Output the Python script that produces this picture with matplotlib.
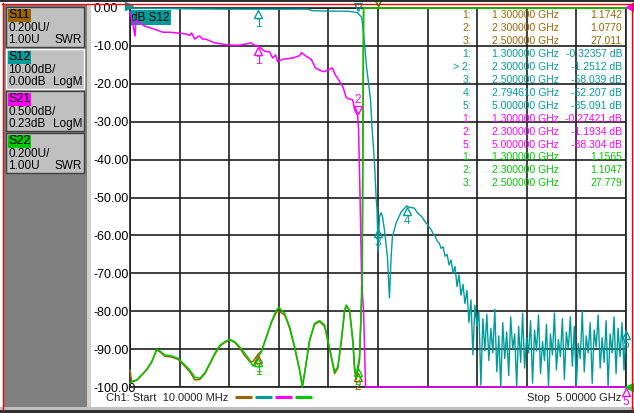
import numpy as np
import matplotlib
matplotlib.use("Agg")
import matplotlib.pyplot as plt
from matplotlib.patches import Rectangle
from matplotlib.lines import Line2D
from matplotlib.transforms import offset_copy

plt.rcParams['font.family'] = ['Liberation Sans', 'DejaVu Sans']

W, H = 634, 413

col_s11 = '#9c6400'
col_s12 = '#009c9c'
col_s21 = '#ff00ff'
col_s22 = '#00c800'

start_ghz, stop_ghz = 0.01, 5.0

# channel boxes on the left
ch_names  = ['S11', 'S12', 'S21', 'S22']
ch_scale  = ['0.200U/', '10.00dB/', '0.500dB/', '0.200U/']
ch_ref    = ['1.00U', '0.00dB', '0.23dB', '1.00U']
ch_format = ['SWR', 'LogM', 'LogM', 'SWR']
ch_colors = [col_s11, col_s12, col_s21, col_s22]

# S12, dB (10 dB/div, ref 0 dB at top)
s12_f = [0.01, 0.50, 1.00, 1.30, 1.80, 1.84, 2.00, 2.20, 2.25, 2.30,
         2.339, 2.349, 2.369, 2.39, 2.41, 2.43, 2.44, 2.447, 2.47, 2.486,
         2.495, 2.50, 2.505, 2.52, 2.537, 2.55, 2.57, 2.60, 2.62, 2.637,
         2.65, 2.688, 2.738, 2.7946, 2.82, 2.87, 2.90, 2.95, 2.98]
s12_db = [-0.05, -0.20, -0.30, -0.32, -0.30, -0.70, -0.80, -0.85, -1.00, -1.25,
          -2.4, -4.0, -9.2, -15.6, -19.8, -24.3, -29.0, -32.2, -41.0, -50.0,
          -53.0, -58.0, -64.4, -55.0, -54.0, -55.0, -58.6, -65.7, -76.5, -65.7,
          -60.4, -56.7, -53.8, -52.2, -52.6, -52.8, -54.0, -55.2, -56.5]
# S12 noisy tail, 3.00 .. 5.00 GHz sweep points
s12_tail_db = [
    -57.0, -57.8, -58.5, -59.6, -60.2, -61.5, -62.0, -63.4, -63.0, -65.5,
    -65.0, -67.8, -66.5, -69.9, -68.2, -73.5, -70.4, -75.8, -72.9, -78.0,
    -74.5, -83.0, -77.0, -91.5, -78.4, -84.0, -80.1, -99.5, -82.0, -90.5,
    -80.8, -93.0, -84.5, -91.0, -79.5, -96.0, -86.5, -100.0, -83.0, -92.5,
    -85.5, -97.0, -81.5, -90.0, -86.0, -100.0, -84.0, -93.5, -80.5, -95.0,
    -87.0, -91.0, -82.5, -99.0, -85.0, -90.5, -81.0, -96.5, -88.0, -93.0,
    -83.5, -100.0, -86.0, -91.5, -80.5, -95.5, -87.5, -92.0, -82.0, -98.0,
    -85.5, -90.0, -81.5, -94.5, -84.0, -100.0, -88.5, -92.5, -80.0, -96.0,
    -86.5, -91.0, -83.0, -99.0, -85.0, -89.5, -81.0, -95.0, -87.0, -93.5,
    -82.5, -100.0, -86.0, -91.0, -81.5, -96.5, -84.5, -92.0, -83.0, -95.5,
    -85.1]

# S21, dB (0.5 dB/div, ref 0.23 dB at top)
s21_f = [0.01, 0.04, 0.06, 0.07, 0.11, 0.16, 0.21, 0.28, 0.34, 0.41,
         0.49, 0.56, 0.61, 0.63, 0.66, 0.69, 0.71, 0.74, 0.77, 0.81,
         0.86, 0.91, 1.01, 1.11, 1.19, 1.23, 1.26, 1.30, 1.335, 1.365,
         1.415, 1.445, 1.475, 1.495, 1.535, 1.585, 1.645, 1.715, 1.735, 1.785,
         1.835, 1.875, 1.935, 1.965, 1.995, 2.045, 2.075, 2.115, 2.155, 2.185,
         2.215, 2.25, 2.27, 2.30, 2.31, 2.325, 2.34, 2.36, 2.38, 3.00, 5.00]
s21_db = [0.18, 0.01, -0.14, 0.07, 0.03, -0.01, -0.03, -0.06, -0.09, -0.09,
          -0.10, -0.11, -0.13, -0.10, -0.18, -0.15, -0.14, -0.18, -0.18, -0.20,
          -0.23, -0.24, -0.26, -0.26, -0.24, -0.23, -0.26, -0.27, -0.31, -0.34,
          -0.35, -0.43, -0.39, -0.48, -0.45, -0.44, -0.43, -0.40, -0.36, -0.41,
          -0.45, -0.56, -0.60, -0.61, -0.59, -0.56, -0.65, -0.73, -0.82, -0.95,
          -0.97, -0.98, -1.11, -1.19, -1.38, -2.3, -3.35, -3.78, -30.0, -60.0, -88.3]

# S11 / S22, SWR (0.2 U/div, ref 1.00 U at bottom)
swr_f = [0.01, 0.027, 0.077, 0.127, 0.178, 0.228, 0.278, 0.311, 0.361, 0.429,
         0.495, 0.545, 0.612, 0.663, 0.713, 0.763, 0.813, 0.863, 0.914, 0.964,
         1.014, 1.064, 1.114, 1.165, 1.215, 1.248, 1.30, 1.332, 1.382, 1.433,
         1.483, 1.506, 1.566, 1.616, 1.667, 1.717, 1.744, 1.767, 1.817, 1.867,
         1.918, 1.968, 2.001, 2.051, 2.068, 2.101, 2.136, 2.169, 2.186, 2.219,
         2.252, 2.269, 2.285, 2.30, 2.319, 2.336, 2.346, 2.36, 2.50, 5.00]
s22_swr = [1.02, 1.03, 1.037, 1.064, 1.093, 1.134, 1.199, 1.19, 1.169, 1.164,
           1.151, 1.125, 1.09, 1.051, 1.046, 1.075, 1.125, 1.178, 1.22, 1.239,
           1.251, 1.239, 1.212, 1.178, 1.142, 1.11, 1.1565, 1.186, 1.265, 1.345,
           1.406, 1.42, 1.389, 1.318, 1.212, 1.09, 1.0, 1.072, 1.248, 1.336,
           1.35, 1.327, 1.248, 1.125, 1.081, 1.107, 1.248, 1.406, 1.43, 1.406,
           1.248, 1.107, 1.06, 1.1047, 1.16, 1.42, 1.51, 4.0, 27.779, 28.5]
s11_swr = [1.09, 1.025, 1.035, 1.062, 1.09, 1.13, 1.195, 1.185, 1.162, 1.158,
           1.145, 1.118, 1.08, 1.037, 1.04, 1.07, 1.12, 1.172, 1.215, 1.235,
           1.248, 1.235, 1.205, 1.165, 1.133, 1.135, 1.1742, 1.19, 1.262, 1.34,
           1.396, 1.40, 1.38, 1.31, 1.205, 1.085, 1.005, 1.075, 1.245, 1.33,
           1.345, 1.32, 1.24, 1.115, 1.07, 1.10, 1.24, 1.40, 1.432, 1.40,
           1.24, 1.09, 1.04, 1.077, 1.14, 1.40, 1.70, 3.2, 27.011, 28.0]

# marker readouts
s11_mk_num = ['1', '2', '3']
s11_mk_f   = [1.3, 2.3, 2.5]
s11_mk_val = [1.1742, 1.0770, 27.011]
s12_mk_num = ['1', '2', '3', '4', '5']
s12_mk_f   = [1.3, 2.3, 2.5, 2.79461, 5.0]
s12_mk_val = [-0.32357, -1.2512, -58.039, -52.207, -85.091]
s21_mk_num = ['1', '2', '5']
s21_mk_f   = [1.3, 2.3, 5.0]
s21_mk_val = [-0.27421, -1.1934, -88.304]
s22_mk_num = ['1', '2', '3']
s22_mk_f   = [1.3, 2.3, 2.5]
s22_mk_val = [1.1565, 1.1047, 27.779]
active_mk = '2'


def logm_screen(v, per_div, ref):
    # reference line at the top of the graticule
    return np.clip((np.asarray(v, float) - ref) / per_div * 10.0, -100, 0)


def swr_screen(v, per_div=0.2, ref=1.0):
    # reference line at the bottom of the graticule
    return np.clip(-100 + (np.asarray(v, float) - ref) / per_div * 10.0, -100, 0)


def fx(x):
    return x / W


def fy(y):
    return 1 - y / H


def rect(x0, y0, x1, y1, **kw):
    fig.add_artist(Rectangle((fx(x0), fy(y1)), (x1 - x0) / W, (y1 - y0) / H,
                             transform=fig.transFigure, **kw))


def hline(x0, x1, y, **kw):
    fig.add_artist(Line2D([fx(x0), fx(x1)], [fy(y), fy(y)], transform=fig.transFigure, **kw))


def vline(x, y0, y1, **kw):
    fig.add_artist(Line2D([fx(x), fx(x)], [fy(y0), fy(y1)], transform=fig.transFigure, **kw))


fig = plt.figure(figsize=(W / 100, H / 100), dpi=100, facecolor='white')

# ---- left channel panel ----
rect(4, 4, 87, 408, facecolor='#808080', edgecolor='none')
rect(87, 4, 91, 408, facecolor='#d4d0c8', edgecolor='none')
box_tops = [7, 49, 91, 133]
for top, name, sc, rf, fm, c in zip(box_tops, ch_names, ch_scale, ch_ref, ch_format, ch_colors):
    active = (name == 'S12')
    rect(6, top, 84, top + 40, facecolor='#c0c0c0',
         edgecolor='#ffffff' if active else '#404040', linewidth=1)
    rect(7.5, top + 2, 31, top + 15, facecolor=c, edgecolor='none')
    fig.text(fx(8.5), fy(top + 8.5), name, fontsize=9, va='center', ha='left', color='black')
    fig.text(fx(8.5), fy(top + 21), sc, fontsize=8.5, va='center', ha='left', color='black')
    fig.text(fx(8.5), fy(top + 33), rf, fontsize=8.5, va='center', ha='left', color='black')
    fig.text(fx(82), fy(top + 33), fm, fontsize=8.5, va='center', ha='right', color='black')

# ---- outer frame ----
rect(0, 0, W, 2, facecolor='#303030', edgecolor='none')
hline(2, 632, 3.5, color='#ff0000', linewidth=1)
vline(2.5, 3, 410, color='#ff0000', linewidth=1)
vline(632, 3, 410, color='#ff0000', linewidth=1)
vline(633.5, 0, H, color='#303030', linewidth=1)
rect(0, 407, W, 410, facecolor='#c0c0c0', edgecolor='none')
rect(0, 410, W, H, facecolor='#303030', edgecolor='none')

# ---- graticule ----
ax = fig.add_axes([fx(130), fy(387), (626 - 130) / W, (387 - 8) / H])
ax.set_facecolor('white')
ax.set_xlim(start_ghz, stop_ghz)
ax.set_ylim(-100, 0)
ax.set_xticks(np.linspace(start_ghz, stop_ghz, 11))
ax.set_xticklabels([])
yt = np.arange(-100, 1, 10)
ax.set_yticks(yt)
ax.set_yticklabels(['%.2f' % v for v in yt], fontsize=9)
ax.tick_params(axis='both', length=0)
ax.tick_params(axis='y', pad=26)
for lbl in ax.get_yticklabels():
    lbl.set_horizontalalignment('left')
ax.grid(True, color='#1e1e1e', linewidth=1.2)
ax.set_axisbelow(True)
for sp in ax.spines.values():
    sp.set_color('#1e1e1e')
    sp.set_linewidth(1.2)

ax.text(0.003, 0.974, 'dB S12', transform=ax.transAxes, fontsize=8.5, color='black',
        ha='left', va='center', zorder=2,
        bbox=dict(boxstyle='square,pad=0.12', facecolor=col_s12, edgecolor='none'))

# ---- traces ----
s12_all_f = np.concatenate([s12_f, np.linspace(3.0, 5.0, len(s12_tail_db))])
s12_all_db = np.concatenate([s12_db, s12_tail_db])

ax.plot(swr_f, swr_screen(s11_swr), color=col_s11, lw=1.1, clip_on=False, zorder=3)
ax.plot(s12_all_f, logm_screen(s12_all_db, 10.0, 0.0), color=col_s12, lw=1.0, clip_on=False, zorder=3)
ax.plot(s21_f, logm_screen(s21_db, 0.5, 0.23), color=col_s21, lw=1.1, clip_on=False, zorder=4)
ax.plot(swr_f, swr_screen(s22_swr), color=col_s22, lw=1.1, clip_on=False, zorder=5)

# reference position arrows
ax.plot([0], [1], transform=offset_copy(ax.transAxes, fig=fig, x=-1, y=2, units='dots'),
        marker='>', ms=6, color=col_s12, clip_on=False, zorder=6)
ax.plot([1], [1], transform=offset_copy(ax.transAxes, fig=fig, x=4, y=1, units='dots'),
        marker='<', ms=6, color=col_s21, clip_on=False, zorder=6)
ax.plot([1], [0], transform=offset_copy(ax.transAxes, fig=fig, x=3, y=0, units='dots'),
        marker='<', ms=6, color=col_s22, clip_on=False, zorder=6)


def put_marker(f, y, color, num, active):
    up = active or y >= 0
    if up:
        sym, dy, dl = 'v', 6, 16
    else:
        sym, dy, dl = '^', -5, -15
    tr = offset_copy(ax.transData, fig=fig, x=0, y=dy, units='dots')
    ax.plot([f], [y], marker=sym, ms=6, mfc='none', mec=color, mew=1,
            transform=tr, clip_on=False, zorder=7)
    # number label, skipped when it would land above the screen
    label_px = fy(0) * 0 + (8 + (-y) * 3.79) - dl
    if label_px < 4:
        return
    trl = offset_copy(ax.transData, fig=fig, x=0, y=dl, units='dots')
    ax.text(f, y, num, transform=trl, fontsize=8.5, color=color,
            ha='center', va='center', clip_on=False, zorder=7)


for n, f, v in zip(s11_mk_num, s11_mk_f, s11_mk_val):
    put_marker(f, float(swr_screen(v)), col_s11, n, False)
for n, f, v in zip(s22_mk_num, s22_mk_f, s22_mk_val):
    put_marker(f, float(swr_screen(v)), col_s22, n, False)
for n, f, v in zip(s12_mk_num, s12_mk_f, s12_mk_val):
    put_marker(f, float(logm_screen(v, 10.0, 0.0)), col_s12, n, n == active_mk)
for n, f, v in zip(s21_mk_num, s21_mk_f, s21_mk_val):
    put_marker(f, float(logm_screen(v, 0.5, 0.23)), col_s21, n, n == active_mk)

# ---- marker table ----
rows = []
for n, f, v in zip(s11_mk_num, s11_mk_f, s11_mk_val):
    rows.append((col_s11, n + ':', f, '{:#.5g}'.format(v)))
for n, f, v in zip(s12_mk_num, s12_mk_f, s12_mk_val):
    rows.append((col_s12, ('> ' if n == active_mk else '') + n + ':', f, '{:#.5g} dB'.format(v)))
for n, f, v in zip(s21_mk_num, s21_mk_f, s21_mk_val):
    rows.append((col_s21, n + ':', f, '{:#.5g} dB'.format(v)))
for n, f, v in zip(s22_mk_num, s22_mk_f, s22_mk_val):
    rows.append((col_s22, n + ':', f, '{:#.5g}'.format(v)))

for i, (c, n, f, v) in enumerate(rows):
    y = 15 + 12.95 * i
    fig.text(fx(471), fy(y), n, color=c, fontsize=7.5, ha='right', va='center')
    fig.text(fx(559), fy(y), '{:.6f} GHz'.format(f), color=c, fontsize=7.5, ha='right', va='center')
    fig.text(fx(622), fy(y), v, color=c, fontsize=7.5, ha='right', va='center')

# ---- bottom annotation ----
fig.text(fx(106), fy(398), 'Ch1: Start  {:.4f} MHz'.format(start_ghz * 1000), fontsize=8,
         color='#202020', ha='left', va='center')
fig.text(fx(621), fy(398), 'Stop  {:.5f} GHz'.format(stop_ghz), fontsize=8,
         color='#202020', ha='right', va='center')
for x0, c in zip([235, 255, 275, 295], ch_colors):
    hline(x0, x0 + 17, 397, color=c, linewidth=2.2, solid_capstyle='butt')

fig.savefig('out.png', dpi=100, facecolor=fig.get_facecolor())
